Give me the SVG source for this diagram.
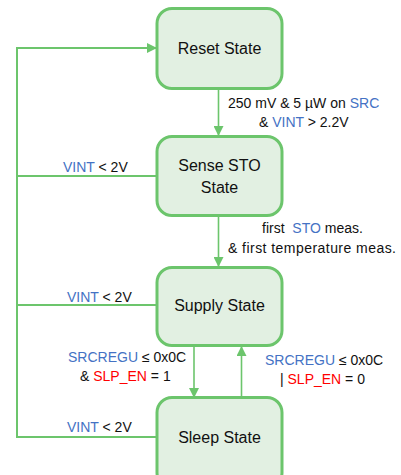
<svg xmlns="http://www.w3.org/2000/svg" width="401" height="475" viewBox="0 0 401 475">
<style>
.box{fill:#e2f0e2;stroke:#6cc56c;stroke-width:3}
.node{font-family:"Liberation Sans",Arial,sans-serif;font-size:16px;fill:#111;text-anchor:middle}
.lbl{font-family:"Liberation Sans",Arial,sans-serif;font-size:14px;fill:#111}
.b{fill:#4472c4}
.r{fill:#ff0000}
.ln{fill:none;stroke:#6cc56c;stroke-width:2}
.ar{fill:none;stroke:#6cc56c;stroke-width:1.6}
</style>
<defs>
<marker id="ah" viewBox="0 0 10 10" refX="10" refY="5" markerWidth="10" markerHeight="10" markerUnits="userSpaceOnUse" orient="auto">
<path d="M0,0 L10,5 L0,10 Z" fill="#6cc56c"/>
</marker>
</defs>
<g id="connectors">
<path class="ln" d="M157,437 H17 V48 H157" marker-end="url(#ah)"/>
<path class="ln" d="M157,176 H17"/>
<path class="ln" d="M157,305 H17"/>
<path class="ar" d="M218.5,89 V136" marker-end="url(#ah)"/>
<path class="ar" d="M218.5,216 V267" marker-end="url(#ah)"/>
<path class="ar" d="M194,346 V398" marker-end="url(#ah)"/>
<path class="ar" d="M241.5,398 V346" marker-end="url(#ah)"/>
</g>
<g id="reset">
<rect class="box" x="157" y="8.5" width="125" height="80" rx="15"/>
<text class="node" x="219.5" y="54">Reset State</text>
</g>
<g id="sense">
<rect class="box" x="157" y="136.5" width="125" height="79" rx="15"/>
<text class="node" x="219.5" y="171">Sense STO</text>
<text class="node" x="219.5" y="193">State</text>
</g>
<g id="supply">
<rect class="box" x="157" y="267.5" width="125" height="78" rx="15"/>
<text class="node" x="219.5" y="311">Supply State</text>
</g>
<g id="sleep">
<rect class="box" x="157" y="397.5" width="125" height="90" rx="15"/>
<text class="node" x="219.5" y="443">Sleep State</text>
</g>
<g id="labels">
<text class="lbl" x="228" y="108">250 mV &amp; 5 µW on <tspan class="b">SRC</tspan></text>
<text class="lbl" x="259" y="127">&amp; <tspan class="b">VINT</tspan> &gt; 2.2V</text>
<text class="lbl" x="63" y="172"><tspan class="b">VINT</tspan> &lt; 2V</text>
<text class="lbl" x="262" y="233" xml:space="preserve">first  <tspan class="b">STO</tspan> meas.</text>
<text class="lbl" x="228" y="253" textLength="168">&amp; first temperature meas.</text>
<text class="lbl" x="67" y="302"><tspan class="b">VINT</tspan> &lt; 2V</text>
<text class="lbl" x="68" y="362"><tspan class="b">SRCREGU</tspan> ≤ 0x0C</text>
<text class="lbl" x="80" y="381">&amp; <tspan class="r">SLP_EN</tspan> = 1</text>
<text class="lbl" x="265" y="365"><tspan class="b">SRCREGU</tspan> ≤ 0x0C</text>
<text class="lbl" x="280" y="384">| <tspan class="r">SLP_EN</tspan> = 0</text>
<text class="lbl" x="67" y="432"><tspan class="b">VINT</tspan> &lt; 2V</text>
</g>
</svg>
